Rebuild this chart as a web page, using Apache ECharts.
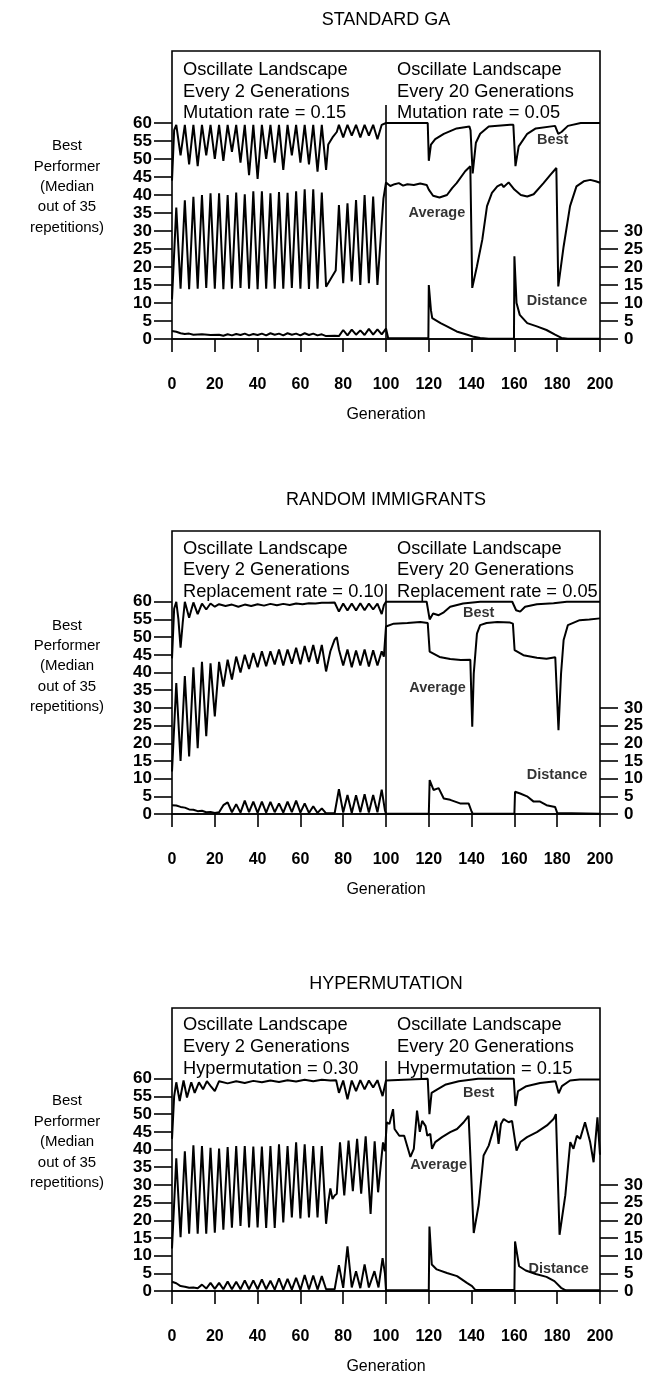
<!DOCTYPE html>
<html><head><meta charset="utf-8">
<script src="https://cdn.jsdelivr.net/npm/echarts@6/dist/echarts.min.js"></script>
<style>html,body{margin:0;padding:0;background:#fff}#c{width:647px;height:1376px}</style>
</head><body><div id="c"></div><script>
// ---------- DATA ----------
const xTicks = [0,20,40,60,80,100,120,140,160,180,200];
const leftTicks = [0,5,10,15,20,25,30,35,40,45,50,55,60];
const rightTicks = [0,5,10,15,20,25,30];
const panelTitles = ['STANDARD GA','RANDOM IMMIGRANTS','HYPERMUTATION'];
const yAxisName = ['Best','Performer','(Median','out of 35','repetitions)'];
const xAxisName = 'Generation';
const leftNotes = [
  ['Oscillate Landscape','Every 2 Generations','Mutation rate = 0.15'],
  ['Oscillate Landscape','Every 2 Generations','Replacement rate = 0.10'],
  ['Oscillate Landscape','Every 2 Generations','Hypermutation = 0.30']
];
const rightNotes = [
  ['Oscillate Landscape','Every 20 Generations','Mutation rate = 0.05'],
  ['Oscillate Landscape','Every 20 Generations','Replacement rate = 0.05'],
  ['Oscillate Landscape','Every 20 Generations','Hypermutation = 0.15']
];
const curveLabels = [
  [[177.9,55.4,'Best'],[123.8,35,'Average'],[179.9,10.5,'Distance']],
  [[143.3,56.7,'Best'],[124.1,35.5,'Average'],[179.9,11,'Distance']],
  [[143.3,56.1,'Best'],[124.6,35.7,'Average'],[180.7,6.1,'Distance']]
];
const divider = [[100,0],[100,65]];

// STANDARD GA
const gaBest = [[0,44],[1,58],[2,59.5],[4,51],[6,59.5],[8,48.5],[10,59.5],[12,48],[14,59.5],[16,51],[18,59.5],[20,50],[22,59.5],[24,49.5],[26,59.5],[28,52],[30,59.5],[32,49],[34,59.5],[36,45.5],[38,59.5],[40,44.5],[42,59.5],[44,50],[46,59.5],[48,49],[50,59.5],[52,47],[54,59.5],[56,51],[58,59.5],[60,49],[62,59.5],[64,48.5],[66,59.5],[68,46.5],[70,59.5],[72,47],[73,54],[75,56],[77,57.5],[78,59.5],[80,56],[82,59.5],[84,56.5],[86,59.5],[88,56],[90,59.5],[92,56.5],[94,59.5],[96,55.5],[98,59.5],[100,60],[119.5,60],[120,49.5],[121,54],[123,55.5],[127,57],[133,58.5],[139,59],[139.5,58],[140.5,46],[142,54.5],[144,57],[148,59],[158,59.5],[159.5,59.5],[160.5,48],[162,53.5],[166,57],[170,58.5],[179,59.2],[180.5,57],[182,57.5],[185,59.2],[191,60],[200,60]];
const gaAverage = [[0,11],[2,36.5],[4,14],[6,38.5],[8,13.8],[10,39.5],[12,14],[14,40],[16,14.2],[18,40.5],[20,14],[22,40.5],[24,13.8],[26,40],[28,14],[30,40.7],[32,14.2],[34,40.2],[36,14],[38,41],[40,13.8],[42,41],[44,14],[46,40.5],[48,14],[50,40.8],[52,14],[54,40.6],[56,14.2],[58,41],[60,14],[62,41.6],[64,13.9],[66,41.6],[68,14],[70,40.7],[72,14.5],[74,16.5],[76.5,19],[78,37.2],[80,15.5],[82,37.7],[84,16],[86,38.6],[88,15],[90,40],[92,15.5],[94,39.6],[96,15],[98.8,39],[100,43.5],[102,42.5],[104,43],[106,43.3],[108,42.6],[110,43],[113,42.8],[116,43.2],[119,42.8],[120,41.5],[122,39.8],[125,39.3],[128.5,40],[131,42],[133,43.3],[137,46.6],[139.4,48],[140.3,14.2],[142.5,20.2],[145,27.6],[147.2,36.9],[149.5,40.6],[152,42.4],[154,43],[155,42.2],[157.3,43.5],[160,41.5],[163,40],[166,39.6],[169,40.2],[173.6,43.3],[176.8,45.6],[179.6,47.5],[180.5,14.6],[183,25.7],[186,36.9],[189,42.4],[192.4,43.8],[195.5,44.2],[198,43.8],[200,43.4]];
const gaDistance = [[0,2.2],[2,2],[4,1.6],[6,1.4],[8,1.5],[10,1.2],[14,1.3],[18,1.1],[22,1.2],[24,0.9],[26,1.3],[28,1],[30,1.4],[32,1.1],[34,1.5],[36,1],[38,1.4],[40,1.1],[42,1.5],[44,1],[46,1.6],[48,1.2],[50,1.5],[52,1],[54,1.6],[56,1.2],[58,1.5],[60,1],[62,1.6],[64,1.1],[66,1.5],[68,1],[70,1.3],[72,0.8],[76,0.9],[78,0.8],[80,2.5],[82,1],[84,2.6],[86,1.2],[88,2.4],[90,1.1],[92,2.8],[94,1.2],[96,2.7],[98,1.3],[100,2.9],[101,0.3],[119.8,0.2],[120,15],[121,8],[121.6,5.8],[125.5,4.4],[128.5,3.5],[133,2.1],[138,1.2],[141,0.6],[144,0.3],[148,0.1],[159.8,0.1],[160,23],[161,10],[162.5,6.7],[166,4.4],[170.5,3.5],[175,2.5],[179,1.2],[182,0.3],[185,0.1],[200,0.1]];

// RANDOM IMMIGRANTS
const riBest = [[0,44],[1,58],[2,60],[3,55],[4,47],[5,54],[6,60],[8,55.5],[10,59.8],[12,56.5],[14,59.5],[16,57.8],[18,59.5],[20,58.6],[22,59.3],[25,58.8],[28,59.2],[31,58.6],[34,59.2],[37,58.8],[40,59.3],[43,58.9],[46,59.4],[49,59],[52,59.4],[55,59.1],[58,59.5],[61,59.3],[64,59.6],[67,59.5],[70,59.7],[73,59.7],[76,59.8],[78,57.2],[80,59.5],[82,57.5],[84,59.5],[86,57.5],[88,59.6],[90,57.6],[92,59.5],[94,57.8],[96,59.5],[98,56.5],[99,59],[100,60],[119,60],[120.4,55],[122,56.7],[124.6,56.2],[127,57],[130,58.6],[136,59.5],[144,60],[159,60],[160.8,57.6],[162.7,57.2],[165,58.6],[170.5,59.3],[178.3,59.6],[184.5,60],[200,60]];
const riAverage = [[0,12],[2,37],[4,15],[6,39],[8,16.3],[10,41.5],[12,18.6],[14,43],[16,22],[18,42.6],[20,27.6],[22,43],[24,36],[26,43.6],[28,38],[30,44.5],[32,40],[34,45],[36,41],[38,45.5],[40,41.5],[42,46],[44,41.8],[46,46],[48,42.3],[50,46.5],[52,42],[54,46.5],[56,42.5],[58,47],[60,42.3],[62,47.5],[64,43],[66,47.8],[68,42.5],[70,47.8],[72,40.3],[74,46],[76,49.3],[77,50],[78,46.5],[80,42],[82,46.5],[84,41.5],[86,46.2],[88,42],[90,46.5],[92,41.7],[94,46.3],[96,42],[98,46],[99,44.5],[100,53],[103.6,53.8],[110,54],[116,54.3],[119.5,54],[120.4,45.9],[125,44.4],[130,43.8],[135,43.5],[139.4,43.6],[140.3,24.7],[141,39.7],[142.5,51],[144,53.4],[147,54],[152,54.3],[158,54.1],[159.3,53.8],[160.1,46.3],[164.2,44.9],[170.5,44.2],[175,43.9],[179.1,44.3],[180.6,23.7],[181.8,39.7],[183,49.2],[185,53.4],[190.5,54.8],[195,55],[200,55.3]];
const riDistance = [[0,2.5],[2,2.4],[4,2],[6,1.8],[8,1.3],[10,1.2],[12,0.8],[14,0.9],[16,0.5],[18,0.6],[20,0.3],[22,0.5],[24,2.5],[26,3.3],[28,0.5],[30,2.8],[32,0.4],[34,3.8],[36,0.5],[38,3.5],[40,0.3],[42,3.5],[44,0.4],[46,3.4],[48,0.5],[50,3],[52,0.4],[54,3.5],[56,0.5],[58,3.8],[60,0.4],[62,3],[64,0.3],[66,2.2],[68,0.3],[70,1.6],[72,0.2],[76,0.2],[78,7],[80,0.4],[82,5.4],[84,0.3],[86,5.3],[88,0.5],[90,5.6],[92,0.4],[94,5.4],[96,0.5],[98,6.9],[99.5,1],[100,0.1],[120,0.1],[120.4,9.6],[122.2,6.8],[124.6,7.3],[127,4.4],[130,4],[134.6,3],[138.6,3],[140,0.7],[140.5,0.1],[160,0.1],[160.3,6.3],[162.7,5.8],[165.9,5],[169,3.5],[172,3.5],[175,2.5],[179,2],[180,0.3],[180.5,0.1],[200,0.1]];

// HYPERMUTATION
const hmBest = [[0,43],[1,55],[2,59],[3.6,53.7],[5.4,59.5],[7,54.7],[9,59],[10.6,56],[12.6,59],[14.5,57],[16.3,59.3],[18,58],[20,56.5],[22,59.3],[26,58.7],[30,59.3],[34,58.8],[38,59.4],[42,59],[46,59.5],[50,59.1],[54,59.6],[58,59.2],[62,59.7],[66,59.3],[70,59.7],[74,59.5],[76.7,59.6],[78,56],[80,59.5],[82,54.2],[84,59.5],[86,56.5],[88,59.6],[90,57],[92,59.5],[94,57.5],[96,59.6],[98.4,55.1],[100,59.5],[119.5,60],[120.3,50],[121.3,56],[124,57],[128,58.4],[134,59.3],[143,60],[159.7,60],[160.5,52.3],[161.7,56.5],[165.6,57.9],[172,58.8],[179.2,59.3],[180.7,55.9],[182.2,57.9],[186,59.5],[190.5,59.8],[200,59.8]];
const hmAverage = [[0,12],[2,37.5],[4,15.2],[6,39.5],[8,16.2],[10,41.2],[12,16.2],[14,41],[16,16.2],[18,40.5],[20,16.5],[22,40.3],[24,17.3],[26,40.7],[28,17.9],[30,41],[32,18.4],[34,41],[36,18],[38,40.8],[40,18],[42,40.8],[44,17.8],[46,41],[48,17.8],[50,41.5],[52,19.4],[54,41],[56,20.8],[58,42],[60,20.5],[62,41.5],[64,20.8],[66,41],[68,20.8],[70,41],[72,19],[73,25],[74,29],[75,26],[76,27],[77,27.5],[78.5,42],[80.5,27],[82.5,42.5],[84.5,28.2],[86.5,43],[88.4,27.5],[90.5,43.7],[92.8,21.8],[94.7,42.3],[96.3,27.9],[98.6,42],[99.5,39.5],[100.4,47.7],[101.6,47.2],[103.3,51.4],[104,45.8],[106.2,43.9],[108.5,43.9],[111.4,37.9],[113,40.2],[114.5,51],[115.8,45],[116.9,48.1],[118.5,46.6],[119.3,43.9],[120.7,44.4],[121.5,40.2],[123,42.1],[126.2,43.5],[130,44.9],[133.2,45.8],[136.3,47.7],[138.6,49.5],[141,16.4],[143.3,24.3],[145.6,38.3],[148,41.1],[150.3,45.8],[151.5,48.1],[152.6,41.6],[153.7,47.2],[155,48.6],[157.3,47.7],[158.9,48.1],[161,39.7],[162.8,42.1],[165.9,43.5],[170.5,44.9],[175.2,46.8],[178.3,48.6],[179.4,50],[181.1,15.9],[183.8,27.1],[186.1,42.1],[187.6,40.2],[189.2,43.9],[190.7,43],[193,47.7],[195.4,42.1],[197,36.4],[198.8,49.1],[200,38.5]];
const hmDistance = [[0,2.6],[2,2.2],[4,1.4],[6,1.2],[8,0.9],[10,1],[12,0.8],[14,1.8],[16,0.7],[18,2.3],[20,0.6],[22,2.3],[24,0.5],[26,2.7],[28,0.5],[30,2.6],[32,0.5],[34,3],[36,0.5],[38,3],[40,0.5],[42,3.3],[44,0.5],[46,2.9],[48,0.4],[50,3.6],[52,0.4],[54,3.4],[56,0.4],[58,3.7],[60,0.3],[62,4.5],[64,0.4],[66,4.4],[68,0.4],[70,4.2],[72,0.5],[76,0.5],[78,7.3],[80,0.9],[82,12.6],[84,1],[86,5.6],[88,0.8],[90,7.5],[92,1],[94.6,5.6],[96.5,1],[98.4,9.3],[99.5,5],[100,0.2],[120,0.2],[120.3,18.2],[121.4,7.5],[123.7,6.1],[128.5,5.1],[133.2,4.2],[137.8,2.3],[140.2,1.4],[141.7,0.3],[160,0.3],[160.3,14],[162.2,7],[165.3,5.8],[170,4.8],[175,4],[178.7,2.8],[181.8,0.9],[184,0.2],[200,0.2]];

const panelSeries = [
  [gaBest, gaAverage, gaDistance],
  [riBest, riAverage, riDistance],
  [hmBest, hmAverage, hmDistance]
];

// ---------- LAYOUT ----------
const FONT = 'Liberation Sans';
const layout = [
  {top:51,   bottom:339,  title:20,   notes:[70,92,113],     yname:[146,167,187,207,228]},
  {top:531,  bottom:814,  title:500,  notes:[549,570,592],   yname:[626,646,666,687,707]},
  {top:1008, bottom:1293, title:984,  notes:[1025,1047,1069], yname:[1101,1122,1142,1163,1183]}
];
const GL = 172, GR = 600;

const grids = [], xAxes = [], yAxes = [], series = [], graphics = [];
layout.forEach((L, i) => {
  grids.push({left: GL, top: L.top, width: GR - GL, height: L.bottom - L.top,
    show: true, borderColor: '#000', borderWidth: 1.6, backgroundColor: 'transparent'});
  xAxes.push({type:'value', gridIndex:i, min:0, max:200, interval:20,
    name: xAxisName, nameLocation:'middle', nameGap:68,
    nameTextStyle:{fontFamily:FONT, fontSize:16, color:'#000'},
    axisLine:{show:true, lineStyle:{color:'#000', width:1.6}},
    axisTick:{show:true, inside:false, length:13, lineStyle:{color:'#000', width:1.6}},
    axisLabel:{show:true, margin:38, fontFamily:FONT, fontSize:16, fontWeight:'bold', color:'#000',
      customValues: xTicks},
    splitLine:{show:false}});
  yAxes.push({type:'value', gridIndex:i, position:'left', min:0, max:80,
    axisLine:{show:false},
    axisTick:{show:true, length:18, customValues: leftTicks, lineStyle:{color:'#000', width:1.6}},
    axisLabel:{show:true, margin:20, fontFamily:FONT, fontSize:17, fontWeight:'bold', color:'#000',
      customValues: leftTicks},
    splitLine:{show:false}});
  yAxes.push({type:'value', gridIndex:i, position:'right', min:0, max:80,
    axisLine:{show:false},
    axisTick:{show:true, length:18, customValues: rightTicks, lineStyle:{color:'#000', width:1.6}},
    axisLabel:{show:true, margin:24, fontFamily:FONT, fontSize:17, fontWeight:'bold', color:'#000',
      customValues: rightTicks},
    splitLine:{show:false}});
  panelSeries[i].forEach(d => {
    series.push({type:'line', xAxisIndex:i, yAxisIndex:2*i, data:d, symbol:'none',
      lineStyle:{color:'#000', width:2}, silent:true, animation:false});
  });
  series.push({type:'line', xAxisIndex:i, yAxisIndex:2*i, data:divider, symbol:'none',
    lineStyle:{color:'#000', width:1.6}, silent:true, animation:false});
  series.push({type:'scatter', xAxisIndex:i, yAxisIndex:2*i, symbolSize:0, animation:false,
    data: curveLabels[i].map(c => ({value:[c[0], c[1]], name:c[2]})),
    label:{show:true, position:'inside', formatter:p => p.name, fontFamily:FONT, fontSize:14.5,
      fontWeight:'bold', color:'#000'}});
  graphics.push({type:'text', x:386, y:L.title, style:{text:panelTitles[i], font:'18px "Liberation Sans"',
    fill:'#000', textAlign:'center', textVerticalAlign:'middle'}});
  leftNotes[i].forEach((t, k) => graphics.push({type:'text', x:183, y:L.notes[k],
    style:{text:t, font:'18.3px "Liberation Sans"', fill:'#000', textAlign:'left', textVerticalAlign:'middle'}}));
  rightNotes[i].forEach((t, k) => graphics.push({type:'text', x:397, y:L.notes[k],
    style:{text:t, font:'18.3px "Liberation Sans"', fill:'#000', textAlign:'left', textVerticalAlign:'middle'}}));
  yAxisName.forEach((t, k) => graphics.push({type:'text', x:67, y:L.yname[k],
    style:{text:t, font:'15px "Liberation Sans"', fill:'#000', textAlign:'center', textVerticalAlign:'middle'}}));
});

const chart = echarts.init(document.getElementById('c'), null, {renderer:'canvas'});
chart.setOption({
  animation:false,
  backgroundColor:'#fff',
  grid: grids, xAxis: xAxes, yAxis: yAxes, series: series, graphic: graphics
});
</script></body></html>
